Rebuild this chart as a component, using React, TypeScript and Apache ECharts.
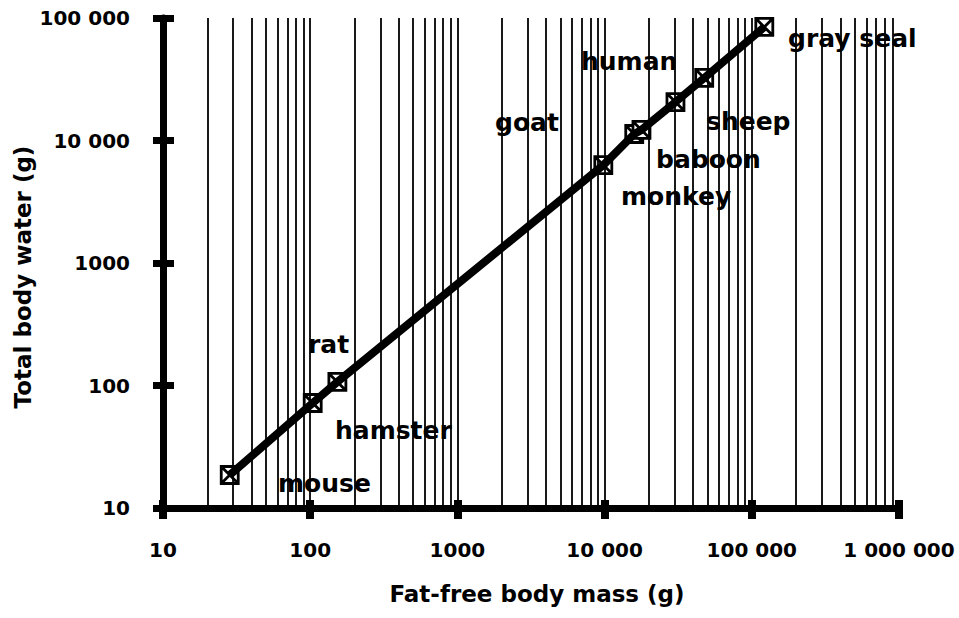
import React, { useEffect, useRef } from "react";
import * as echarts from "echarts";

// ---- data ----
const animals = ["mouse", "hamster", "rat", "monkey", "goat", "baboon", "sheep", "human", "gray seal"];
const fatFreeMass = [28.4, 104, 153, 9800, 15900, 17800, 30300, 47500, 121600]; // g
const totalBodyWater = [18.6, 72, 107, 6300, 11300, 12200, 20600, 32400, 84500]; // g

// axis ranges / ticks
const xMin = 10;
const xMax = 1000000;
const yMin = 10;
const yMax = 100000;
const decades = [10, 100, 1000, 10000, 100000];
const multipliers = [2, 3, 4, 5, 6, 7, 8, 9, 10];

// label layout (pixel anchors: left x, middle y) — positions only
const labelNames = ["gray seal", "human", "sheep", "baboon", "monkey", "goat", "rat", "hamster", "mouse"];
const labelAnchors: [number, number][] = [
  [788, 38],
  [581, 61],
  [706, 121],
  [656, 159],
  [621, 196],
  [495, 122],
  [308, 344],
  [335, 430],
  [278, 483],
];

const FONT = "DejaVu Sans";

function fmt(v: number): string {
  const s = String(Math.round(v));
  return s.length > 4 ? s.replace(/\B(?=(\d{3})+(?!\d))/g, " ") : s;
}

export default function App() {
  const ref = useRef<HTMLDivElement>(null);

  useEffect(() => {
    document.body.style.margin = "0";
    const chart = echarts.init(ref.current!, null, { renderer: "svg" });

    const gridValues: number[] = [];
    decades.forEach((d) => multipliers.forEach((m) => {
      const v = d * m;
      if (v < xMax) gridValues.push(v);
    }));

    const points = fatFreeMass.map((x, i) => [x, totalBodyWater[i]]);

    const labelStyle = { color: "#000", fontFamily: FONT, fontWeight: "bold" as const, fontSize: 20 };

    const option: any = {
      animation: false,
      backgroundColor: "#fff",
      grid: { left: 163, right: 60, top: 18, bottom: 110, containLabel: false },
      xAxis: [
        {
          type: "log", logBase: 10, min: xMin, max: xMax, position: "bottom",
          splitLine: { show: false },
          axisLine: { onZero: false, lineStyle: { color: "#000", width: 7 } },
          axisTick: { length: 11, lineStyle: { color: "#000", width: 8 } },
          axisLabel: { ...labelStyle, margin: 32, formatter: fmt },
        },
        {
          type: "log", logBase: 10, min: xMin, max: xMax, position: "bottom",
          splitLine: { show: false },
          axisLine: { show: false, onZero: false },
          axisTick: { inside: true, length: 8, lineStyle: { color: "#000", width: 8 } },
          axisLabel: { show: false },
        },
      ],
      yAxis: [
        {
          type: "log", logBase: 10, min: yMin, max: yMax, position: "left",
          splitLine: { show: false },
          axisLine: { onZero: false, lineStyle: { color: "#000", width: 7 } },
          axisTick: { length: 10, lineStyle: { color: "#000", width: 7 } },
          axisLabel: { ...labelStyle, margin: 33, formatter: fmt },
        },
        {
          type: "log", logBase: 10, min: yMin, max: yMax, position: "left",
          splitLine: { show: false },
          axisLine: { show: false, onZero: false },
          axisTick: { inside: true, length: 11, lineStyle: { color: "#000", width: 7 } },
          axisLabel: { show: false },
        },
      ],
      series: [
        {
          type: "scatter",
          xAxisIndex: 0,
          yAxisIndex: 0,
          z: 2,
          data: points,
          symbol: "path://M0 0H20V20H0Z M0 0L20 20 M20 0L0 20",
          symbolSize: 17,
          itemStyle: { color: "#fff", borderColor: "#000", borderWidth: 2.8, opacity: 1 },
          markLine: {
            silent: true,
            symbol: ["none", "none"],
            label: { show: false },
            lineStyle: { color: "#000", width: 1.8, type: "solid" },
            data: gridValues.map((v) => ({ xAxis: v })),
          },
        },
        {
          type: "line",
          xAxisIndex: 0,
          yAxisIndex: 0,
          z: 3,
          data: points,
          showSymbol: false,
          symbol: "none",
          lineStyle: { color: "#000", width: 8 },
        },
      ],
      graphic: [
        ...labelNames.map((name, i) => ({
          type: "text",
          x: labelAnchors[i][0],
          y: labelAnchors[i][1],
          z: 10,
          style: {
            text: name,
            fill: "#000",
            fontFamily: FONT,
            fontWeight: "bold",
            fontSize: 25,
            textAlign: "left",
            textVerticalAlign: "middle",
          },
        })),
        {
          type: "text",
          x: 537,
          y: 594,
          style: {
            text: "Fat-free body mass (g)",
            fill: "#000",
            fontFamily: FONT,
            fontWeight: "bold",
            fontSize: 23,
            textAlign: "center",
            textVerticalAlign: "middle",
          },
        },
        {
          type: "text",
          x: 23,
          y: 277,
          rotation: Math.PI / 2,
          style: {
            text: "Total body water (g)",
            fill: "#000",
            fontFamily: FONT,
            fontWeight: "bold",
            fontSize: 23,
            textAlign: "center",
            textVerticalAlign: "middle",
          },
        },
      ],
    };

    chart.setOption(option);
    return () => chart.dispose();
  }, []);

  return <div ref={ref} style={{ width: 959, height: 618 }} />;
}
